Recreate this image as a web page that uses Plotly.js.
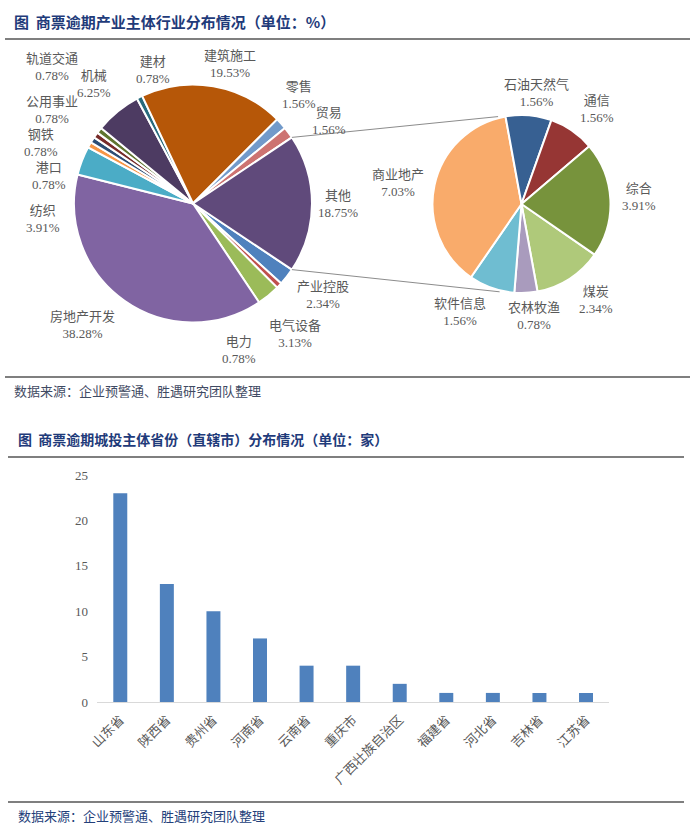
<!DOCTYPE html>
<html><head><meta charset="utf-8">
<script src="https://cdn.plot.ly/plotly-3.0.1.min.js"></script>
<style>html,body{margin:0;padding:0;background:#fff}#chart{width:695px;height:833px}</style>
</head><body><div id="chart"></div>
<script>
// ---------- data ----------
const mainLabels = ['产业控股','电力','电气设备','房地产开发','纺织','港口','钢铁','公用事业','轨道交通','机械','建材','建筑施工','零售','贸易','其他'];
const mainValues = [2.34,0.78,3.13,38.28,3.91,0.78,0.78,0.78,0.78,6.25,0.78,19.53,1.56,1.56,18.75];
const subLabels = ['煤炭','农林牧渔','软件信息','商业地产','石油天然气','通信','综合'];
const subValues = [2.34,0.78,1.56,7.03,1.56,1.56,3.91];
const provinces = ['山东省','陕西省','贵州省','河南省','云南省','重庆市','广西壮族自治区','福建省','河北省','吉林省','江苏省'];
const counts = [23,13,10,7,4,4,2,1,1,1,1];
const yTicks = [0,5,10,15,20,25];

// ---------- styles / positions ----------
const W = 695, H = 833;
const px = v => v / W, py = v => 1 - v / H;
const mainColors = ['#4F81BD','#C0504D','#9BBB59','#8064A2','#4BACC6','#F79646','#2C4D75','#772C2A','#5F7530','#4D3B62','#276A7C','#B65708','#729ACA','#CD7371','#604A7B'];
const subColors = ['#AFC97A','#A99BBD','#6FBDD1','#F9AB6B','#376092','#963634','#77933C'];
const mainC = {x:193, y:203.5, r:119}, subC = {x:521.5, y:204, r:89};
const mainRot = 123.75, subRot = 124.7;
const mainLabelPos = [[323,295],[239,350],[295,334],[82,325],[43,219],[49,176],[41,143],[52,110],[52,67],[94,84],[153,70],[230,64],[299,95],[329,121],[338,204]];
const subLabelPos = [[596,300],[534,316],[460,312],[398,183],[536,93],[597,109],[639,197]];
const serif = 'Liberation Serif, "Noto Sans CJK SC", serif';
const sans = '"Noto Sans CJK SC", sans-serif';
const labelColor = '#595959';

const traces = [
  {type:'pie', labels:mainLabels, values:mainValues, sort:false, direction:'clockwise', rotation:mainRot,
   textinfo:'none', hoverinfo:'none', marker:{colors:mainColors, line:{color:'#ffffff', width:2}},
   domain:{x:[px(mainC.x-mainC.r), px(mainC.x+mainC.r)], y:[py(mainC.y+mainC.r), py(mainC.y-mainC.r)]}},
  {type:'pie', labels:subLabels, values:subValues, sort:false, direction:'clockwise', rotation:subRot,
   textinfo:'none', hoverinfo:'none', marker:{colors:subColors, line:{color:'#ffffff', width:2}},
   domain:{x:[px(subC.x-subC.r), px(subC.x+subC.r)], y:[py(subC.y+subC.r), py(subC.y-subC.r)]}},
  {type:'bar', x:provinces, y:counts, width:0.3, marker:{color:'#4F81BD'}, hoverinfo:'none'}
];

const annotations = [];
const fmt = v => v.toFixed(2) + '%';
mainLabels.forEach((l,i) => annotations.push({xref:'paper', yref:'paper', x:px(mainLabelPos[i][0]), y:py(mainLabelPos[i][1]),
  xanchor:'center', yanchor:'middle', showarrow:false, text:l + '<br>' + fmt(mainValues[i]), font:{family:serif, size:13, color:labelColor}}));
subLabels.forEach((l,i) => annotations.push({xref:'paper', yref:'paper', x:px(subLabelPos[i][0]), y:py(subLabelPos[i][1]),
  xanchor:'center', yanchor:'middle', showarrow:false, text:l + '<br>' + fmt(subValues[i]), font:{family:serif, size:13, color:labelColor}}));
const txt = (t, x, y, size, color, bold) => annotations.push({xref:'paper', yref:'paper', x:px(x), y:py(y), xanchor:'left', yanchor:'middle',
  showarrow:false, text:t, font:{family:sans, size:size, color:color, weight: bold ? 'bold' : 'normal'}});
txt('图  商票逾期产业主体行业分布情况（单位：%）', 12, 21, 15, '#1F3B7A', true);
txt('数据来源：企业预警通、胜遇研究团队整理', 12, 390, 13, '#3F4A63', false);
txt('图  商票逾期城投主体省份（直辖市）分布情况（单位：家）', 16, 439, 14, '#1F3B7A', true);
txt('数据来源：企业预警通、胜遇研究团队整理', 16, 815, 13, '#23407A', false);

// connector lines from the "其他" slice edges to the secondary pie
const total = mainValues.reduce((a,b)=>a+b,0);
const otherIdx = mainLabels.indexOf('其他');
const before = mainValues.slice(0, otherIdx).reduce((a,b)=>a+b,0);
const a0 = (mainRot + 360*before/total) * Math.PI/180;
const a1 = (mainRot + 360*(before+mainValues[otherIdx])/total) * Math.PI/180;
const onCircle = (c, a) => [c.x + c.r*Math.sin(a), c.y - c.r*Math.cos(a)];
const p0 = onCircle(mainC, a0), p1 = onCircle(mainC, a1);
const subOuter = {x:subC.x, y:subC.y, r:subC.r+1.5};
const q0 = onCircle(subOuter, -15*Math.PI/180);
const q1 = onCircle(subOuter, 194*Math.PI/180);

const hline = (x0,x1,y) => ({type:'line', xref:'paper', yref:'paper', x0:px(x0), x1:px(x1), y0:py(y), y1:py(y), line:{color:'#555555', width:1.5}});
const shapes = [
  hline(5,690,39), hline(5,690,377), hline(8,684,457), hline(8,684,802),
  {type:'line', xref:'paper', yref:'paper', x0:px(p0[0]), y0:py(p0[1]), x1:px(q0[0]), y1:py(q0[1]), line:{color:'#8C8C8C', width:1}},
  {type:'line', xref:'paper', yref:'paper', x0:px(p1[0]), y0:py(p1[1]), x1:px(q1[0]), y1:py(q1[1]), line:{color:'#8C8C8C', width:1}}
];

const layout = {
  width:W, height:H, margin:{l:0,r:0,t:0,b:0}, paper_bgcolor:'#ffffff', plot_bgcolor:'#ffffff', showlegend:false,
  xaxis:{domain:[px(97), px(609.3)], type:'category', tickangle:-45, ticks:'', showgrid:false, zeroline:false,
    showline:true, linecolor:'#D9D9D9', linewidth:1, tickfont:{family:serif, size:13, color:labelColor}, ticklabelstandoff:4, fixedrange:true},
  yaxis:{domain:[py(702), py(475)], range:[0,25], tickmode:'array', tickvals:yTicks, ticks:'', showgrid:false, zeroline:false,
    showline:false, tickfont:{family:serif, size:13, color:labelColor}, ticklabelstandoff:8, fixedrange:true},
  annotations:annotations, shapes:shapes
};
Plotly.newPlot('chart', traces, layout, {staticPlot:true, displayModeBar:false});
</script>
</body></html>
